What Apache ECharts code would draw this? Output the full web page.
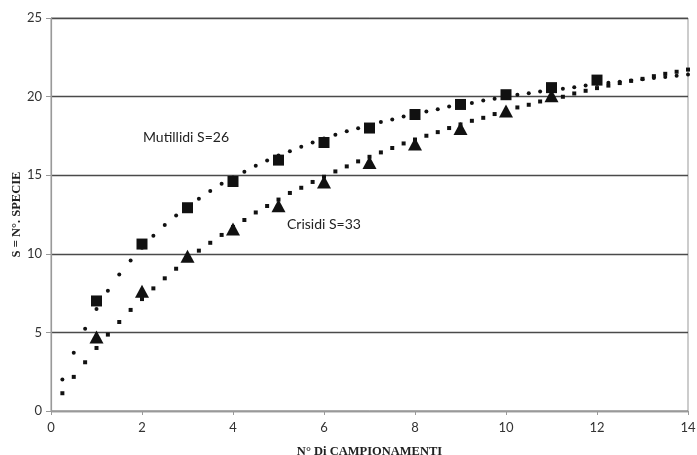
<!DOCTYPE html>
<html>
<head>
<meta charset="utf-8">
<script src="https://cdn.jsdelivr.net/npm/echarts@6/dist/echarts.min.js"></script>
<style>
  html, body { margin: 0; padding: 0; background: #fff; }
  #chart { width: 697px; height: 455px; }
</style>
</head>
<body>
<div id="chart"></div>
<script>
// --- dati ---
var campioni = [1, 2, 3, 4, 5, 6, 7, 8, 9, 10, 11, 12];
var mutillidi = [7.0, 10.62, 12.93, 14.6, 15.96, 17.08, 18.0, 18.86, 19.5, 20.12, 20.57, 21.05];
var crisidi = [4.7, 7.62, 9.84, 11.58, 13.06, 14.56, 15.8, 16.98, 17.97, 19.08, 20.05];

// curve di tendenza (punti a passo 0.25)
var trendX = [
  0.25, 0.5, 0.75, 1, 1.25, 1.5, 1.75, 2, 2.25, 2.5, 2.75, 3, 3.25, 3.5, 3.75, 4,
  4.25, 4.5, 4.75, 5, 5.25, 5.5, 5.75, 6, 6.25, 6.5, 6.75, 7, 7.25, 7.5, 7.75, 8,
  8.25, 8.5, 8.75, 9, 9.25, 9.5, 9.75, 10, 10.25, 10.5, 10.75, 11, 11.25, 11.5, 11.75, 12,
  12.25, 12.5, 12.75, 13, 13.25, 13.5, 13.75, 14
];
var trendMutillidi = [
  2.0, 3.71, 5.24, 6.49, 7.65, 8.69, 9.58, 10.39, 11.15, 11.83, 12.44, 13.0, 13.5, 14.0, 14.46, 14.85,
  15.22, 15.6, 15.94, 16.25, 16.53, 16.81, 17.08, 17.33, 17.57, 17.8, 17.98, 18.18, 18.38, 18.55, 18.74, 18.9,
  19.05, 19.2, 19.37, 19.5, 19.6, 19.75, 19.86, 20.0, 20.11, 20.22, 20.33, 20.42, 20.5, 20.6, 20.7, 20.8,
  20.88, 20.95, 21.03, 21.1, 21.18, 21.25, 21.32, 21.4
];
var trendCrisidi = [
  1.13, 2.17, 3.1, 4.01, 4.86, 5.66, 6.43, 7.12, 7.8, 8.44, 9.05, 9.62, 10.2, 10.7, 11.2, 11.7,
  12.15, 12.63, 13.04, 13.45, 13.87, 14.2, 14.57, 14.9, 15.24, 15.56, 15.88, 16.17, 16.45, 16.73, 17.02, 17.27,
  17.51, 17.74, 18.0, 18.23, 18.46, 18.65, 18.89, 19.1, 19.31, 19.48, 19.69, 19.85, 19.99, 20.2, 20.37, 20.54,
  20.7, 20.86, 21.0, 21.13, 21.3, 21.45, 21.58, 21.72
];

function pairs(xs, ys) {
  return ys.map(function (v, i) { return [xs[i], v]; });
}

var chart = echarts.init(document.getElementById('chart'));

var tickFont = { color: '#333', fontSize: 13, fontFamily: 'Lato, sans-serif' };
var titleFont = { fontFamily: '"Liberation Serif", serif', fontWeight: 'bold', fontSize: 12.5, color: '#222' };
var nero = { color: '#111', opacity: 1 };

chart.setOption({
  animation: false,
  grid: {
    left: 51, right: 9, top: 18, bottom: 44, outerBoundsMode: 'none',
    show: true, borderColor: '#999', borderWidth: 1
  },
  xAxis: {
    type: 'value', min: 0, max: 14, interval: 2,
    name: 'N° Di CAMPIONAMENTI', nameLocation: 'middle', nameGap: 34, nameMoveOverlap: false,
    nameTextStyle: titleFont,
    axisLine: { lineStyle: { color: '#999', width: 1.2 } },
    axisTick: { show: true, length: 4, lineStyle: { color: '#999' } },
    axisLabel: Object.assign({ margin: 10 }, tickFont),
    splitLine: { show: false }
  },
  yAxis: {
    type: 'value', min: 0, max: 25, interval: 5,
    name: 'S = N°. SPECIE', nameLocation: 'middle', nameGap: 28, nameMoveOverlap: false,
    nameTextStyle: titleFont,
    axisLine: { show: true, lineStyle: { color: '#999', width: 1.2 } },
    axisTick: { show: true, length: 5, lineStyle: { color: '#999' } },
    axisLabel: Object.assign({ margin: 9 }, tickFont),
    splitLine: { show: true, lineStyle: { color: '#4a4a4a', width: 1.4 } }
  },
  graphic: [
    { type: 'text', left: 143, top: 130, style: { text: 'Mutillidi S=26', fill: '#222', font: '14px Lato, sans-serif' } },
    { type: 'text', left: 287, top: 217, style: { text: 'Crisidi S=33', fill: '#222', font: '14px Lato, sans-serif' } }
  ],
  series: [
    {
      name: 'tendenza Mutillidi', type: 'scatter', symbol: 'circle', symbolSize: 4,
      itemStyle: nero, data: pairs(trendX, trendMutillidi), z: 2
    },
    {
      name: 'tendenza Crisidi', type: 'scatter', symbol: 'rect', symbolSize: 4,
      itemStyle: nero, data: pairs(trendX, trendCrisidi), z: 2
    },
    {
      name: 'Mutillidi', type: 'scatter', symbol: 'rect', symbolSize: 11,
      itemStyle: nero, data: pairs(campioni, mutillidi), z: 3
    },
    {
      name: 'Crisidi', type: 'scatter', symbol: 'triangle', symbolSize: [14, 13],
      itemStyle: nero, data: pairs(campioni, crisidi), z: 3
    }
  ]
});
</script>
</body>
</html>
